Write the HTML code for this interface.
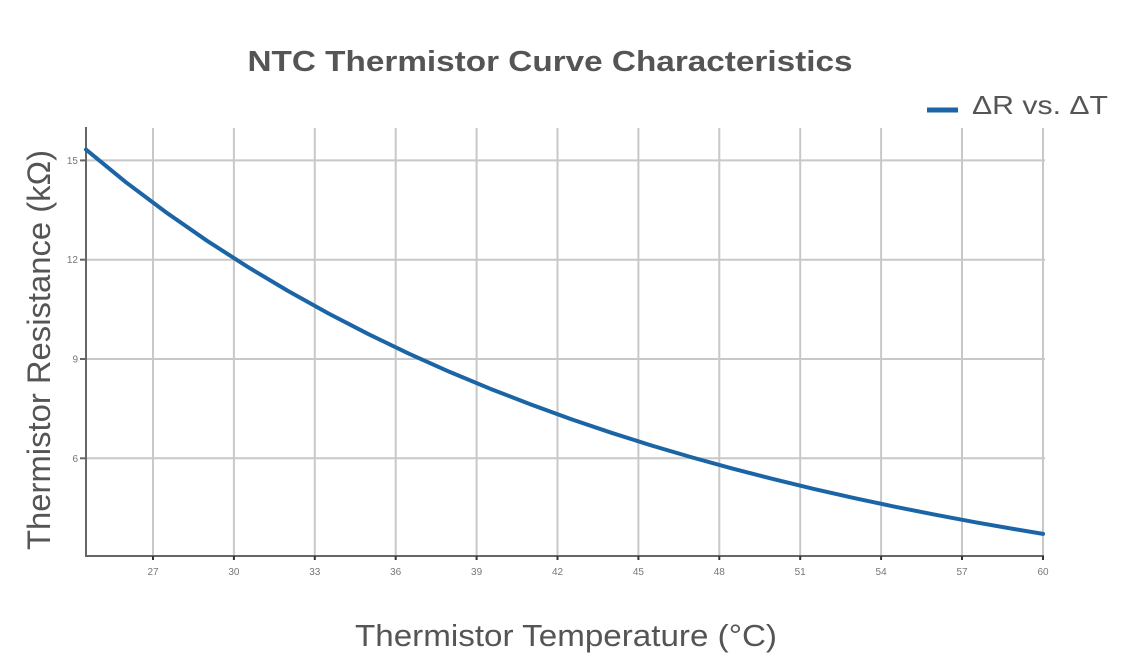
<!DOCTYPE html>
<html><head><meta charset="utf-8"><style>
html,body{margin:0;padding:0;background:#fff;}
svg{display:block;}
text{font-family:"Liberation Sans",Arial,sans-serif;}
</style></head><body>
<svg width="1125" height="667" viewBox="0 0 1125 667" xmlns="http://www.w3.org/2000/svg">
<rect width="1125" height="667" fill="#fff"/>
<text x="550" y="71" text-anchor="middle" font-size="29" font-weight="bold" fill="#555" textLength="605" lengthAdjust="spacingAndGlyphs">NTC Thermistor Curve Characteristics</text>
<line x1="927" y1="110" x2="958" y2="110" stroke="#1b65a6" stroke-width="5"/>
<text x="972" y="114" font-size="26" fill="#555" textLength="136" lengthAdjust="spacingAndGlyphs">ΔR vs. ΔT</text>
<g stroke="#c8c8c8" stroke-width="2">
<line x1="153" y1="128" x2="153" y2="556"/>
<line x1="233.9" y1="128" x2="233.9" y2="556"/>
<line x1="314.8" y1="128" x2="314.8" y2="556"/>
<line x1="395.7" y1="128" x2="395.7" y2="556"/>
<line x1="476.6" y1="128" x2="476.6" y2="556"/>
<line x1="557.5" y1="128" x2="557.5" y2="556"/>
<line x1="638.4" y1="128" x2="638.4" y2="556"/>
<line x1="719.3" y1="128" x2="719.3" y2="556"/>
<line x1="800.2" y1="128" x2="800.2" y2="556"/>
<line x1="881.1" y1="128" x2="881.1" y2="556"/>
<line x1="962" y1="128" x2="962" y2="556"/>
<line x1="1043" y1="128" x2="1043" y2="556"/>
<line x1="86" y1="160.4" x2="1045" y2="160.4"/>
<line x1="86" y1="259.7" x2="1045" y2="259.7"/>
<line x1="86" y1="359" x2="1045" y2="359"/>
<line x1="86" y1="458.3" x2="1045" y2="458.3"/>
</g>
<g stroke="#666" stroke-width="2">
<line x1="86" y1="127" x2="86" y2="557"/>
<line x1="85" y1="556" x2="1044" y2="556"/>
<line x1="80" y1="160.4" x2="86" y2="160.4"/>
<line x1="80" y1="259.7" x2="86" y2="259.7"/>
<line x1="80" y1="359" x2="86" y2="359"/>
<line x1="80" y1="458.3" x2="86" y2="458.3"/>
</g>
<g stroke="#333" stroke-width="2">
<line x1="153" y1="556" x2="153" y2="560"/>
<line x1="233.9" y1="556" x2="233.9" y2="560"/>
<line x1="314.8" y1="556" x2="314.8" y2="560"/>
<line x1="395.7" y1="556" x2="395.7" y2="560"/>
<line x1="476.6" y1="556" x2="476.6" y2="560"/>
<line x1="557.5" y1="556" x2="557.5" y2="560"/>
<line x1="638.4" y1="556" x2="638.4" y2="560"/>
<line x1="719.3" y1="556" x2="719.3" y2="560"/>
<line x1="800.2" y1="556" x2="800.2" y2="560"/>
<line x1="881.1" y1="556" x2="881.1" y2="560"/>
<line x1="962" y1="556" x2="962" y2="560"/>
<line x1="1043" y1="556" x2="1043" y2="560"/>
</g>
<g font-size="10" fill="#777" text-anchor="end">
<text x="78" y="164">15</text>
<text x="78" y="263">12</text>
<text x="78" y="362.5">9</text>
<text x="78" y="462">6</text>
</g>
<g font-size="10" fill="#777" text-anchor="middle">
<text x="153" y="575">27</text>
<text x="233.9" y="575">30</text>
<text x="314.8" y="575">33</text>
<text x="395.7" y="575">36</text>
<text x="476.6" y="575">39</text>
<text x="557.5" y="575">42</text>
<text x="638.4" y="575">45</text>
<text x="719.3" y="575">48</text>
<text x="800.2" y="575">51</text>
<text x="881.1" y="575">54</text>
<text x="962" y="575">57</text>
<text x="1043" y="575">60</text>
</g>
<polyline fill="none" stroke="#1b65a6" stroke-width="4" stroke-linejoin="round" stroke-linecap="round" points="86,149.6 126,182.3 166.5,212.6 206.9,240.7 247.4,266.7 287.9,290.9 328.3,313.4 368.8,334.3 409.2,353.8 449.7,371.9 490.1,388.7 530.6,404.4 571,419.1 611.5,432.8 651.9,445.6 692.4,457.5 732.9,468.7 773.3,479.1 813.8,488.9 854.2,498.1 894.7,506.7 935.1,514.7 975.6,522.3 1016,529.4 1043,533.9"/>
<text x="566" y="646" text-anchor="middle" font-size="31" fill="#555" textLength="422" lengthAdjust="spacingAndGlyphs">Thermistor Temperature (°C)</text>
<text transform="translate(50,350) rotate(-90)" x="0" y="0" text-anchor="middle" font-size="32" fill="#555" textLength="400" lengthAdjust="spacingAndGlyphs">Thermistor Resistance (kΩ)</text>
</svg>
</body></html>
